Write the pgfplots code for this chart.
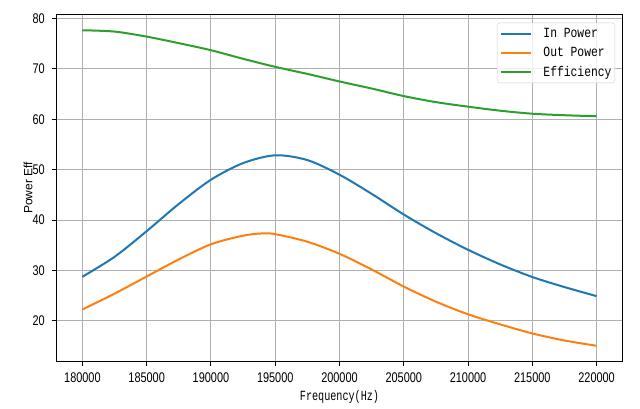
\documentclass[border=0pt]{standalone}
\usepackage{pgfplots}
\pgfplotsset{compat=1.18}
\usepackage{fontspec}
\setmainfont{Liberation Sans}
\newfontfamily\tickfont[FakeStretch=0.78]{Liberation Sans}
\newfontfamily\labfont[FakeStretch=0.725]{Liberation Mono}
\newfontfamily\legfont[FakeStretch=0.81]{Liberation Mono}
\definecolor{c1}{HTML}{1F77B4}
\definecolor{c2}{HTML}{FF7F0E}
\definecolor{c3}{HTML}{2CA02C}
\definecolor{gridgray}{HTML}{B0B0B0}
\definecolor{leggray}{HTML}{CCCCCC}
\begin{document}
\begin{tikzpicture}
\path[use as bounding box] (0,0) rectangle (640bp,409bp);
\begin{axis}[
  at={(56.7bp,47.7bp)}, anchor=south west,
  scale only axis, width=565.6bp, height=346.8bp,
  xmin=178000, xmax=222000, ymin=11.97, ymax=80.79,
  xtick={180000,185000,...,220000}, ytick={20,30,...,80},
  scaled x ticks=false, scaled y ticks=false,
  grid=major, grid style={color=gridgray, line width=1bp},
  axis line style={line width=1bp},
  tick align=outside, major tick length=5bp,
  tick style={black, line width=1bp},
  tick pos=left,
  /pgf/number format/assume math mode=true,
  ticklabel style={font=\tickfont\fontsize{14bp}{14bp}\selectfont},
  xticklabel style={/pgf/number format/fixed, /pgf/number format/precision=0, /pgf/number format/1000 sep={}, anchor=north, inner sep=0pt, yshift=-6.4bp},
  yticklabel style={/pgf/number format/fixed, anchor=east, inner sep=0pt, xshift=-6.7bp},
  xlabel={Frequency(Hz)}, ylabel={Power Eff},
  every axis x label/.style={at={(axis description cs:0.5,-0.103)}, anchor=center, inner sep=0pt, font=\labfont\fontsize{14bp}{14bp}\selectfont},
  every axis y label/.style={at={(axis description cs:-0.0507,0.5)}, anchor=center, inner sep=0pt, rotate=90, font=\fontsize{12bp}{12bp}\selectfont},
  legend cell align=left,
  legend style={at={(1,1)}, anchor=north east, xshift=-7.3bp, yshift=-8.2bp,
    draw=leggray, rounded corners=3bp, fill=white, fill opacity=0.8, text opacity=1,
    inner xsep=3.3bp, inner ysep=1.5bp, row sep=0pt, column sep=0pt,
    font=\legfont\fontsize{14bp}{14bp}\selectfont,
    nodes={inner sep=0pt, minimum height=19bp}},
  legend image code/.code={\draw[#1] (0bp,0bp) -- (30bp,0bp); \path (41bp,0bp);},
  every axis plot/.append style={line width=2bp, smooth},
]
\addplot[c1] coordinates {
(180000,28.75) (182500,32.7) (185000,37.8) (187500,43.2) (190000,48.0)
(192500,51.3) (195000,52.85) (197500,51.9) (200000,49.0) (202500,45.2)
(205000,41.1) (207500,37.4) (210000,34.1) (212500,31.2) (215000,28.7)
(217500,26.7) (220000,24.9)};
\addlegendentry{In Power}
\addplot[c2] coordinates {
(180000,22.25) (182500,25.4) (185000,28.8) (187500,32.2) (190000,35.2)
(192500,36.9) (194000,37.35) (195000,37.2) (197500,35.7) (200000,33.3)
(202500,30.2) (205000,26.8) (207500,23.8) (210000,21.3) (212500,19.3)
(215000,17.5) (217500,16.1) (220000,15.05)};
\addlegendentry{Out Power}
\addplot[c3] coordinates {
(180000,77.66) (182500,77.4) (185000,76.4) (187500,75.1) (190000,73.7)
(192500,72.0) (195000,70.4) (197500,69.0) (200000,67.5) (202500,66.1)
(205000,64.6) (207500,63.4) (210000,62.5) (212500,61.7) (215000,61.1)
(217500,60.8) (220000,60.6)};
\addlegendentry{Efficiency}
\end{axis}
\end{tikzpicture}
\end{document}
